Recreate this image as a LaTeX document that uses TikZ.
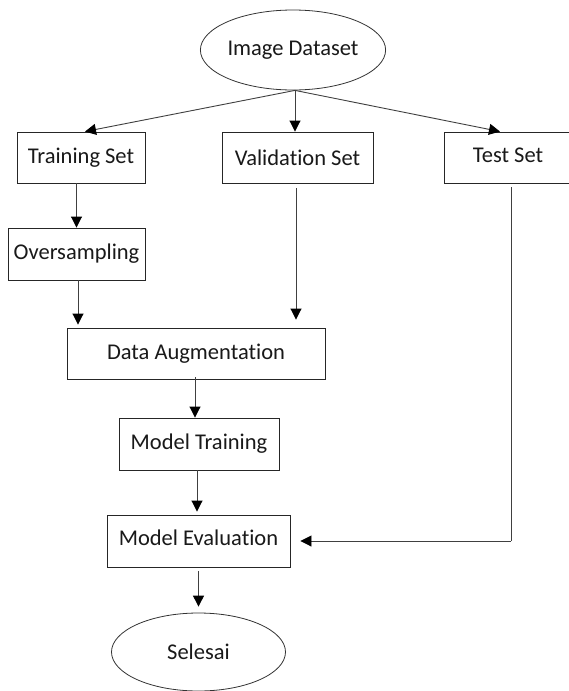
\documentclass[tikz,border=0pt]{standalone}
\usepackage{fontspec}
\setmainfont{Carlito}[Ligatures={NoCommon}]
\usetikzlibrary{shapes.geometric,arrows.meta,calc}
\begin{document}
\begin{tikzpicture}[x=1pt,y=-1pt,
  every node/.style={font=\fontsize{22.5}{26}\selectfont, text=black!90, inner sep=0pt},
  boxnode/.style={draw=black!85, line width=0.9pt, rectangle, minimum height=51pt},
  ovalnode/.style={draw=black!80, line width=0.8pt, ellipse},
  conn/.style={draw=black!75, line width=0.9pt, -{Triangle[length=11pt,width=11pt,color=black]}},
  plain/.style={draw=black!75, line width=0.9pt}]
\useasboundingbox[fill=white] (0,0) rectangle (568,691);
% nodes
\node[ovalnode, minimum width=172pt, minimum height=80pt] (ds) at (293,50) {Image Dataset};
\node[boxnode, minimum width=128pt] (train) at (81,157.5) {Training Set};
\node[boxnode, minimum width=151pt] (val) at (297.5,157.5) {Validation Set};
\node[boxnode, minimum width=128pt] (test) at (508,157.5) {\raisebox{4pt}{Test Set}};
\node[boxnode, minimum width=137pt, minimum height=52pt] (over) at (76.5,254) {Oversampling};
\node[boxnode, minimum width=258pt] (aug) at (196,353.5) {Data Augmentation};
\node[boxnode, minimum width=160pt, minimum height=52pt] (mtrain) at (199,444) {Model Training};
\node[boxnode, minimum width=183pt, minimum height=52pt] (meval) at (198.5,541) {\raisebox{6pt}{Model Evaluation}};
\node[ovalnode, minimum width=174pt, minimum height=78pt] (sel) at (198.5,652) {Selesai};
% helper coordinates
\coordinate (dsb) at ($(ds.south)+(2,0)$);
\coordinate (testin) at ($(test.north)+(-8,0)$);
\coordinate (trainin) at ($(train.north)+(4,0)$);
\coordinate (testout) at ($(test.south)+(3,4)$);
\coordinate (turn) at (testout |- meval.east);
% connectors
\draw[conn] (dsb) -- (trainin);
\draw[conn] (dsb) -- (dsb |- val.north);
\draw[conn] (dsb) -- (testin);
\draw[conn] (over.north |- train.south) -- (over.north);
\draw[conn, shorten >=3pt] ($(over.south)+(1.5,0)$) -- ($(over.south |- aug.north)+(1.5,0)$);
\draw[conn, shorten >=8pt, shorten <=5pt] ($(val.south)+(-1.5,0)$) -- ($(val.south |- aug.north)+(-1.5,0)$);
\draw[conn] ($(aug.south)+(-1,-2)$) -- ($(aug.south |- mtrain.north)+(-1,0)$);
\draw[conn, shorten >=3pt] ($(mtrain.south)+(-2,0)$) -- ($(mtrain.south |- meval.north)+(-2,0)$);
\draw[plain] (testout) -- (turn);
\draw[conn, shorten >=10pt] (turn) -- (meval.east);
\draw[conn, shorten >=6pt, shorten <=4pt] (meval.south) -- (meval.south |- sel.north);
\end{tikzpicture}
\end{document}
